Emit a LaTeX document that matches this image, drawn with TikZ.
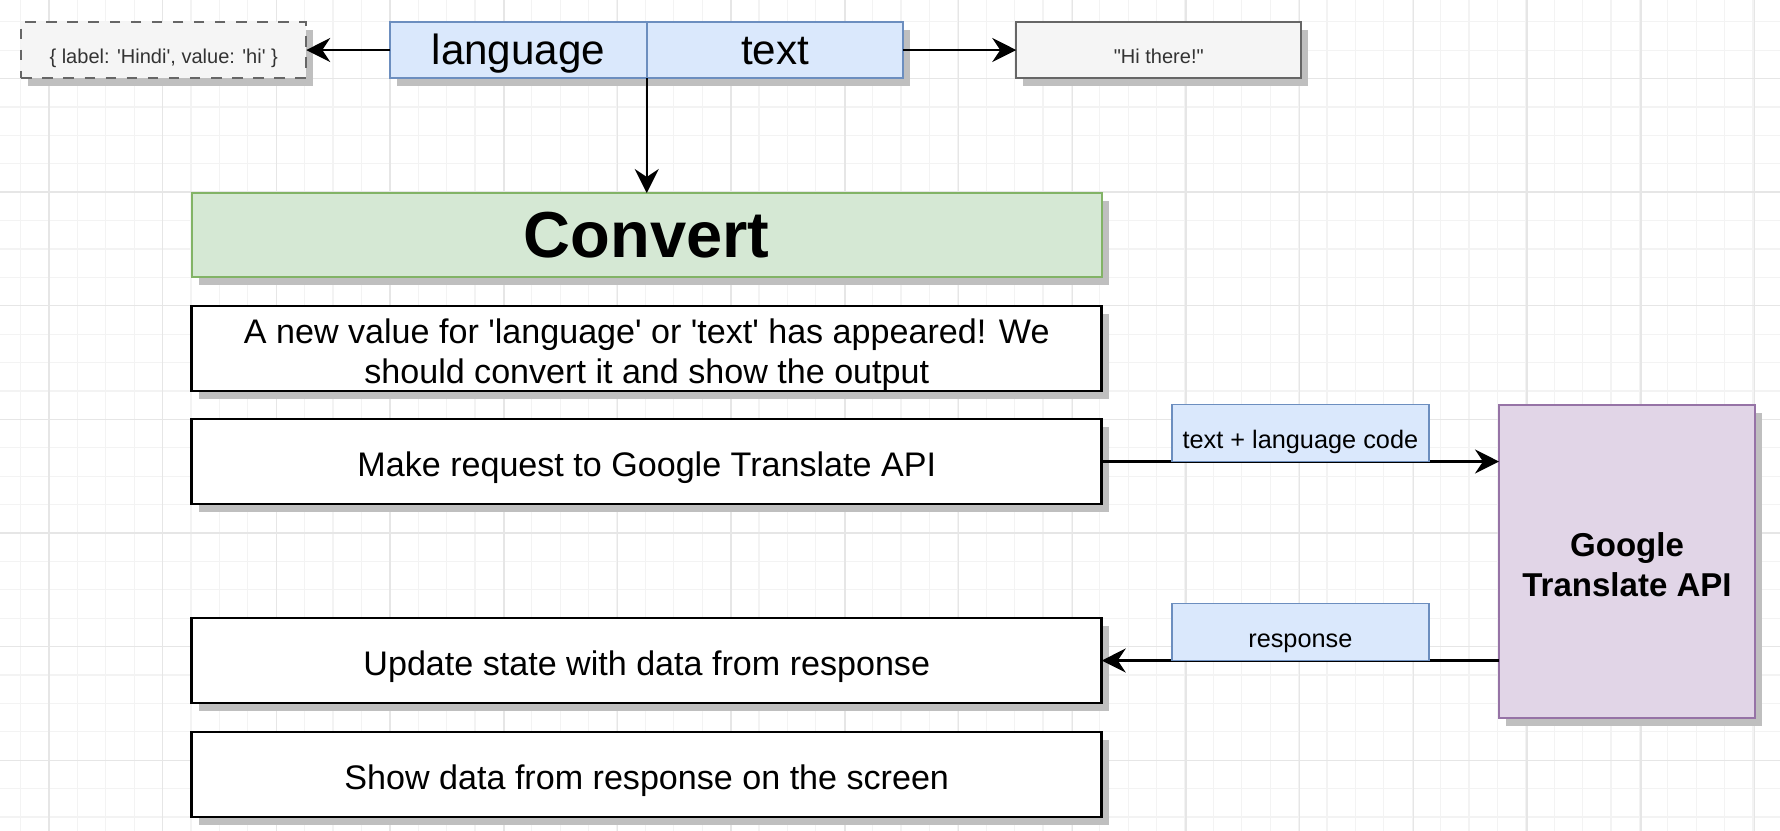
\documentclass[tikz,border=0pt]{standalone}
\usepackage{fontspec}
\setmainfont{Liberation Sans}[Ligatures=TeXOff]
\usetikzlibrary{positioning,shadows,arrows.meta}
\definecolor{propFill}{HTML}{DAE8FC}
\definecolor{propLine}{HTML}{6C8EBF}
\definecolor{valFill}{HTML}{F5F5F5}
\definecolor{valLine}{HTML}{666666}
\definecolor{valText}{HTML}{333333}
\definecolor{convFill}{HTML}{D5E8D4}
\definecolor{convLine}{HTML}{82B366}
\definecolor{apiFill}{HTML}{E1D5E7}
\definecolor{apiLine}{HTML}{9673A6}
\definecolor{gridMinor}{HTML}{F3F3F3}
\definecolor{gridMajor}{HTML}{E6E6E6}

\begin{document}
\begin{tikzpicture}[
    arr/.style={%
      draw=black,
      line width=0.7pt,
      -{Stealth[length=0.24cm,width=0.24cm,inset=0.08cm]},
    },
  ]

\tikzstyle{boxshadow} = [drop shadow={shadow xshift=0.07cm, shadow yshift=-0.08cm, fill=black!25, opacity=1}]

\tikzstyle{fieldbox} = [rectangle, outer sep=0pt, inner sep=0pt, minimum width=2.565cm, minimum height=0.56cm, text height=1.05em, text depth=0.21em, draw=propLine, line width=0.45pt, fill=propFill, boxshadow, font=\fontsize{12}{14}\selectfont]

\tikzstyle{valbox} = [rectangle, outer sep=0pt, inner sep=0pt, minimum width=2.85cm, minimum height=0.56cm, text height=1.0em, text depth=0.22em, draw=valLine, line width=0.6pt, fill=valFill, text=valText, boxshadow, font=\fontsize{5.7}{7}\selectfont]

\tikzstyle{convbox} = [rectangle, outer sep=0pt, inner sep=0pt, minimum width=9.1cm, minimum height=0.84cm, draw=convLine, line width=0.45pt, fill=convFill, boxshadow, font=\fontsize{18.5}{22}\selectfont\bfseries]

\tikzstyle{stepbox} = [rectangle, outer sep=0pt, inner sep=0pt, minimum width=9.1cm, minimum height=0.85cm, text height=1.06em, text depth=0.21em, draw=black, line width=0.75pt, fill=white, boxshadow, align=center, font=\fontsize{9.7}{11.4}\selectfont]

\tikzstyle{tagbox} = [rectangle, outer sep=0pt, inner sep=0pt, minimum width=2.57cm, minimum height=0.57cm, text height=1.11em, text depth=0.21em, draw=propLine, line width=0.45pt, fill=propFill, font=\fontsize{7.2}{8.6}\selectfont]

\tikzstyle{apibox} = [rectangle, outer sep=0pt, minimum width=2.56cm, minimum height=3.13cm, draw=apiLine, line width=0.45pt, fill=apiFill, boxshadow, align=center, font=\fontsize{9.4}{11.4}\selectfont\bfseries]

    % canvas
    \useasboundingbox (0,0) rectangle (17.8,-8.3);
    \fill[white] (0,0) rectangle (17.8,-8.3);
    \begin{scope}
      \clip (0,0) rectangle (17.8,-8.3);
      \begin{scope}[shift={(0.206,-0.218)}]
        \draw[gridMinor, line width=0.3pt] (-0.5,0.5) grid[step=0.284] (17.8,-8.3);
      \end{scope}
      \begin{scope}[shift={(0.49,-0.782)}]
        \draw[gridMajor, line width=0.4pt] (-0.6,0.9) grid[step=1.137] (17.5,-7.6);
      \end{scope}
    \end{scope}

    % props row
    \node [fieldbox] (lang) at (5.185,-0.50) {language};
    \node [fieldbox, right=0pt of lang] (txt) {text};
    \node [valbox, dashed, left=0.84cm of lang] (opt) {\{ label: 'Hindi', value: 'hi' \}};
    \node [valbox, right=1.13cm of txt] (hi) {"Hi there!"};

    % steps
    \node [convbox, below=1.15cm of lang.south east] (conv) {Convert};
    \node [stepbox, text height=, text depth=, below=0.29cm of conv] (newval) {\rule{0pt}{1.09em}A new value for 'language' or 'text' has appeared! We\\should convert it and show the output};
    \node [stepbox, below=0.28cm of newval] (req) {Make request to Google Translate API};
    \node [stepbox, below=1.14cm of req] (upd) {Update state with data from response};
    \node [stepbox, below=0.29cm of upd] (show) {Show data from response on the screen};

    \node [apibox] (api) at (16.27,-5.615) {\rule{0pt}{0.92em}Google\\Translate API};

    \draw[arr] (lang.west) -- (opt.east);
    \draw[arr] (txt.east) -- (hi.west);
    \draw[arr] (lang.south east) -- (conv.north);
    \draw[arr] (req.east) -- (req.east -| api.west) node [tagbox, midway, above] (sendtag) {text + language code};
    \draw[arr] (api.west |- upd.east) -- (upd.east) node [tagbox, midway, above] (backtag) {response};
\end{tikzpicture}
\end{document}
